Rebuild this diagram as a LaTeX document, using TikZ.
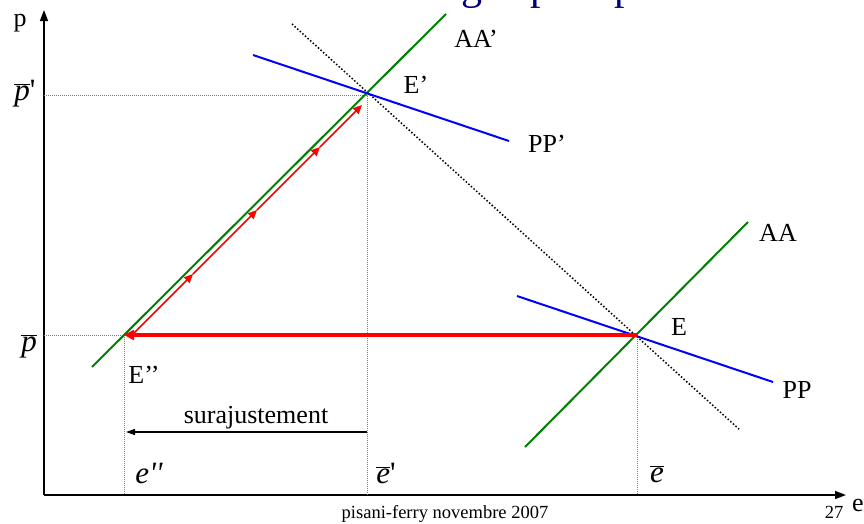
\documentclass[tikz,border=0pt]{standalone}
\usepackage{fontspec}
\setmainfont{Liberation Serif}
\usetikzlibrary{arrows.meta}
\definecolor{aagreen}{RGB}{0,128,0}
\definecolor{ppblue}{RGB}{0,0,255}
\definecolor{adjred}{RGB}{255,0,0}
\definecolor{titlenavy}{RGB}{0,0,128}

\begin{document}
\begin{tikzpicture}[x=1pt,y=-1pt,
    lbl/.style={inner sep=0pt,anchor=base,font=\fontsize{26}{28}\selectfont},
    mlbl/.style={inner sep=0pt,anchor=base,font=\fontsize{31}{33}\selectfont},
    guideline/.style={gray,line width=0.8pt,dash pattern=on 1pt off 1pt},
    aaline/.style={aagreen,line width=2pt},
    ppline/.style={ppblue,line width=2pt},
    redstep/.style={adjred,line width=1.6pt,-{Triangle[length=9pt,width=8pt]}},
    axisline/.style={line width=1.4pt,-{Triangle[length=11pt,width=8pt]}}]
    \useasboundingbox (0,0) rectangle (864,523);
    \clip (0,0) rectangle (864,523);

    % what is left of the slide title
    \node[lbl,font=\fontsize{42}{44}\selectfont,text=titlenavy] (tg) at (472,-1) {g};
    \node[lbl,font=\fontsize{42}{44}\selectfont,text=titlenavy] (tp1) at (541,-1) {p};
    \node[lbl,font=\fontsize{42}{44}\selectfont,text=titlenavy] (tp2) at (625,-1) {p};

    % equilibria
    \coordinate (O) at (44,495);
    \coordinate (E) at (637,335);
    \coordinate (Ep) at (367,95);
    \coordinate (Epp) at (124,335);

    % axes
    \coordinate (ytop) at (44,10);
    \coordinate (xend) at (846,495);
    \draw[axisline] (O) -- (ytop);
    \draw[axisline] (O) -- (xend);
    \node[lbl] (plab) at (20,26) {p};
    \node[lbl] (elab) at (858,511) {e};

    % guides
    \draw[guideline] (O |- Ep) -- (Ep) -- (Ep |- O);
    \draw[guideline] (O |- Epp) -- (Epp) -- (Epp |- O);
    \draw[guideline] (E) -- (E |- O);

    % schedules
    \draw[line width=1.5pt,dash pattern=on 1.5pt off 2pt] (292,24) -- (740,430);
    \draw[aaline] (92,367) -- (446,14);
    \draw[aaline] (525,447) -- (748,222);
    \draw[ppline] (253,55) -- (509,141);
    \draw[ppline] (517,296) -- (773,382);

    % adjustment path
    \draw[adjred,line width=4pt,-{Triangle[length=10pt,width=10pt]}] (E) -- (Epp);
    \draw[redstep] (132,335) -- (193,274);
    \draw[redstep] (193,274) -- (257,210);
    \draw[redstep] (257,210) -- (320,147);
    \draw[redstep] (320,147) -- (362,105);

    % overshooting
    \coordinate (sa) at (Ep |- 0,432);
    \coordinate (sb) at (126,432);
    \draw[line width=1.4pt,-{Triangle[length=9pt,width=6pt]}] (sa) -- (sb);
    \node[lbl] (suraj) at (256,423) {surajustement};

    % labels
    \node[lbl] (aap) at (476,47) {AA’};
    \node[lbl] (eplab) at (416,93) {E’};
    \node[lbl] (ppp) at (547,152) {PP’};
    \node[lbl] (aa) at (778,241) {AA};
    \node[lbl] (elbl) at (679,335) {E};
    \node[lbl] (pp) at (797,398) {PP};
    \node[lbl] (epplab) at (144,383) {E’’};

    \node[mlbl] (pbarp) at (25,100) {$\overline{\mbox{\itshape p}}$\textquotesingle};
    \node[mlbl] (pbar) at (29,351) {$\overline{\mbox{\itshape p}}$};
    \node[mlbl] (epp) at (149,483) {\itshape e\textquotesingle\textquotesingle};
    \node[mlbl] (ebarp) at (386,483) {$\overline{\mbox{\itshape e}}$\textquotesingle};
    \node[mlbl] (ebar) at (657,482) {$\overline{\mbox{\itshape e}}$};

    % footer
    \node[lbl,font=\fontsize{18.5}{20}\selectfont] (foot) at (445,518) {pisani-ferry novembre 2007};
    \node[lbl,font=\fontsize{18.5}{20}\selectfont] (pnum) at (834,518) {27};
\end{tikzpicture}
\end{document}
